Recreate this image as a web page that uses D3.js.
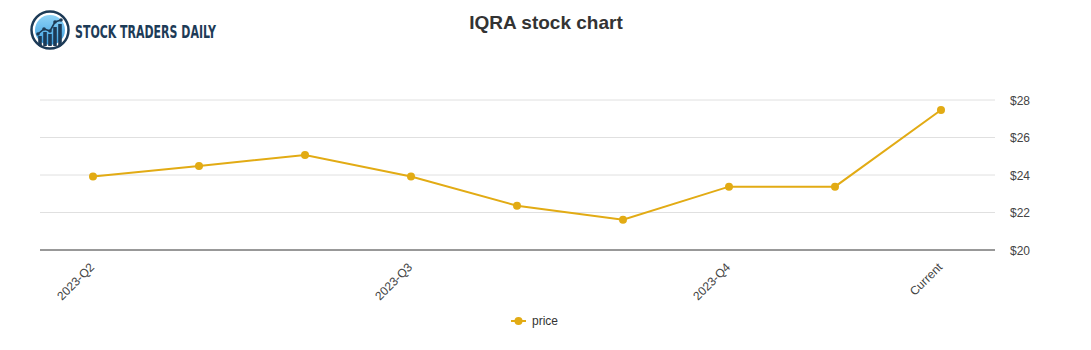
<!DOCTYPE html>
<html>
<head>
<meta charset="utf-8">
<script src="https://cdn.jsdelivr.net/npm/d3@7"></script>
<style>
  html, body { margin: 0; padding: 0; background: #fff; }
  svg { display: block; font-family: "Liberation Sans", Arial, sans-serif; }
</style>
</head>
<body>
<svg id="chart" width="1091" height="350"></svg>
<script>
// Quarterly closing prices for IQRA
const categories = ["2023-Q2", "q2b", "q2c", "2023-Q3", "q3b", "q3c", "2023-Q4", "q4b", "Current"];
const prices = [23.92, 24.48, 25.07, 23.92, 22.36, 21.62, 23.38, 23.38, 27.47];
const tickLabels = ["2023-Q2", "2023-Q3", "2023-Q4", "Current"];
const yTicks = [20, 22, 24, 26, 28];

const lineColor = "#e2ab14";
const svg = d3.select("#chart");
const margin = { left: 40, right: 97, top: 100, bottom: 100 };
const W = 1091, H = 350;

const x = d3.scalePoint().domain(categories).range([margin.left, W - margin.right]).padding(0.5);
const y = d3.scaleLinear().domain([20, 28]).range([250, 100]);

// Title
svg.append("text").attr("x", 546).attr("y", 29).attr("text-anchor", "middle")
  .attr("font-size", 19).attr("font-weight", "bold").attr("fill", "#333")
  .text("IQRA stock chart");

// Logo
const logo = svg.append("g");
const grad = svg.append("defs").append("linearGradient").attr("id", "lg")
  .attr("x1", 0).attr("y1", 0).attr("x2", 0).attr("y2", 1);
grad.append("stop").attr("offset", "0").attr("stop-color", "#8fd3f7");
grad.append("stop").attr("offset", "1").attr("stop-color", "#3a9ee0");
logo.append("circle").attr("cx", 50).attr("cy", 30).attr("r", 18.5)
  .attr("fill", "#fff").attr("stroke", "#1d3b57").attr("stroke-width", 2.5);
logo.append("circle").attr("cx", 50).attr("cy", 30).attr("r", 15).attr("fill", "url(#lg)");
const barsX = [40, 45, 50, 55, 60];
const barsTop = [36, 32, 34, 27, 24];
barsX.forEach((bx, i) => {
  logo.append("rect").attr("x", bx - 1.8).attr("y", barsTop[i]).attr("width", 3.6)
    .attr("height", 46 - barsTop[i]).attr("fill", "#1d3b57");
});
logo.append("path").attr("d", "M38,34 L44,29 L50,31 L55,22 L61,20")
  .attr("fill", "none").attr("stroke", "#1d3b57").attr("stroke-width", 1.6);
[[38,34],[44,29],[50,31],[55,22],[61,20]].forEach(p =>
  logo.append("circle").attr("cx", p[0]).attr("cy", p[1]).attr("r", 1.8).attr("fill", "#1d3b57"));
logo.append("text").attr("x", 75).attr("y", 38)
  .attr("font-family", "'DejaVu Sans Condensed', 'DejaVu Sans', sans-serif")
  .attr("font-size", 18).attr("font-weight", "bold").attr("fill", "#1d3b57")
  .attr("textLength", 141).attr("lengthAdjust", "spacingAndGlyphs")
  .text("STOCK TRADERS DAILY");

// Gridlines
svg.append("g").selectAll("line").data(yTicks.filter(d => d !== 20)).join("line")
  .attr("x1", margin.left).attr("x2", W - margin.right + 1)
  .attr("y1", d => y(d)).attr("y2", d => y(d))
  .attr("stroke", "#e0e0e0").attr("stroke-width", 1);

// Baseline
svg.append("line").attr("x1", margin.left).attr("x2", W - margin.right + 1)
  .attr("y1", y(20)).attr("y2", y(20)).attr("stroke", "#333").attr("stroke-width", 1);

// Y axis labels (right side)
svg.append("g").selectAll("text").data(yTicks).join("text")
  .attr("x", 1010).attr("y", d => y(d) + 4.5)
  .attr("font-size", 12).attr("fill", "#444")
  .text(d => "$" + d);

// X axis labels
svg.append("g").selectAll("text").data(tickLabels).join("text")
  .attr("transform", d => `translate(${x(d) + 2},${268}) rotate(-45)`)
  .attr("text-anchor", "end")
  .attr("font-size", 12).attr("fill", "#444")
  .text(d => d);

// Price line
const line = d3.line().x((d, i) => x(categories[i])).y(d => y(d));
svg.append("path").datum(prices).attr("d", line)
  .attr("fill", "none").attr("stroke", lineColor).attr("stroke-width", 2);
svg.append("g").selectAll("circle").data(prices).join("circle")
  .attr("cx", (d, i) => x(categories[i])).attr("cy", d => y(d))
  .attr("r", 4).attr("fill", lineColor);

// Legend
const lg = svg.append("g");
lg.append("line").attr("x1", 511).attr("x2", 526).attr("y1", 321).attr("y2", 321)
  .attr("stroke", lineColor).attr("stroke-width", 2);
lg.append("circle").attr("cx", 518.5).attr("cy", 321).attr("r", 4).attr("fill", lineColor);
lg.append("text").attr("x", 532).attr("y", 325).attr("font-size", 12).attr("fill", "#333").text("price");
</script>
</body>
</html>
